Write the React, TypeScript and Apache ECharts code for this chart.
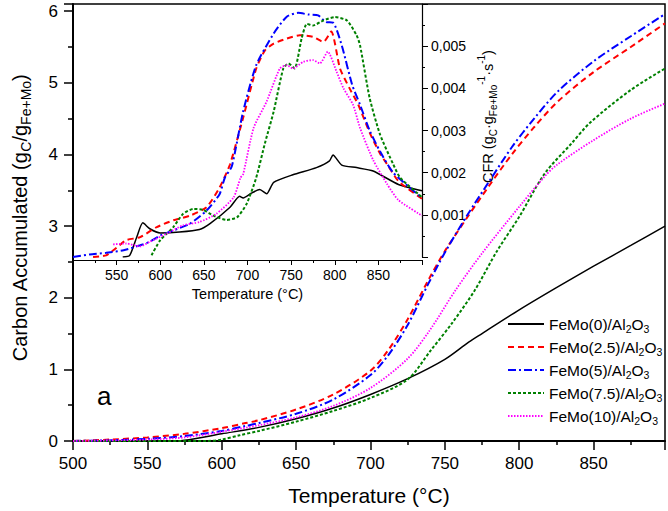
import React, { useEffect, useRef } from "react";
import * as echarts from "echarts";

// ---------- Main chart: carbon accumulated (gC/gFe+Mo) vs temperature ----------
const mainBlackT = [500, 550, 570, 575, 600, 625, 650, 675, 700, 725, 750, 766, 775, 800, 825, 850, 875, 898];
const mainBlackV = [0, 0, 0, 0.01, 0.1, 0.19, 0.31, 0.46, 0.65, 0.87, 1.14, 1.38, 1.5, 1.83, 2.14, 2.44, 2.73, 3.0];

const mainRedT = [500, 525, 550, 575, 600, 616, 625, 650, 675, 700, 712, 725, 739, 750, 765, 780, 795, 810, 826, 850, 875, 898];
const mainRedV = [0, 0.02, 0.05, 0.1, 0.18, 0.25, 0.29, 0.44, 0.65, 0.98, 1.27, 1.7, 2.25, 2.65, 3.12, 3.57, 4.0, 4.38, 4.74, 5.15, 5.5, 5.83];

const mainBlueT = [500, 525, 550, 575, 600, 616, 625, 650, 675, 700, 712, 725, 739, 750, 765, 780, 795, 810, 826, 850, 875, 898];
const mainBlueV = [0, 0.01, 0.03, 0.07, 0.14, 0.21, 0.25, 0.38, 0.58, 0.92, 1.2, 1.62, 2.2, 2.63, 3.15, 3.63, 4.1, 4.5, 4.88, 5.3, 5.65, 5.96];

const mainGreenT = [500, 590, 600, 612, 625, 650, 675, 700, 725, 740, 755, 770, 785, 800, 817, 835, 848, 875, 898];
const mainGreenV = [0, 0, 0.02, 0.08, 0.14, 0.27, 0.42, 0.6, 0.86, 1.25, 1.65, 2.1, 2.65, 3.13, 3.73, 4.15, 4.45, 4.9, 5.2];

const mainMagentaT = [500, 530, 550, 575, 600, 625, 650, 675, 700, 725, 740, 757, 775, 800, 817, 825, 850, 875, 898];
const mainMagentaV = [0, 0.01, 0.02, 0.05, 0.13, 0.22, 0.33, 0.49, 0.74, 1.15, 1.55, 2.1, 2.62, 3.27, 3.69, 3.85, 4.2, 4.5, 4.71];

// ---------- Inset: CFR (gC·gFe+Mo^-1·s^-1) vs temperature ----------
const insetBlackT = [557, 565, 573, 580, 588, 600, 622, 645, 657, 680, 691, 695, 705, 714, 722, 730, 752, 779, 794, 798, 808, 825, 844, 873, 900];
const insetBlackV = [0, 0.00004, 0.00047, 0.00081, 0.00067, 0.00057, 0.00059, 0.00065, 0.00079, 0.00118, 0.00144, 0.0014, 0.00152, 0.0016, 0.0015, 0.00177, 0.00195, 0.00212, 0.00228, 0.00242, 0.00218, 0.00212, 0.00204, 0.00172, 0.00157];

const insetRedT = [523, 538, 550, 561, 577, 596, 615, 634, 653, 668, 680, 695, 710, 720, 730, 745, 760, 775, 787, 796, 806, 817, 827, 840, 852, 860, 873, 900];
const insetRedV = [0, 0.00004, 0.00022, 0.0004, 0.00047, 0.00071, 0.00087, 0.00098, 0.00118, 0.00165, 0.0022, 0.0033, 0.00447, 0.0049, 0.00506, 0.00518, 0.00526, 0.00522, 0.0051, 0.00535, 0.00447, 0.004, 0.00361, 0.00295, 0.00245, 0.0022, 0.0018, 0.00138];

const insetBlueT = [500, 519, 538, 558, 577, 588, 600, 615, 634, 653, 668, 674, 682, 695, 710, 730, 745, 758, 770, 781, 790, 798, 808, 820, 829, 840, 852, 867, 900];
const insetBlueV = [0, 0.00006, 0.0001, 0.00016, 0.00028, 0.00036, 0.00051, 0.00063, 0.00079, 0.0011, 0.00149, 0.00188, 0.00215, 0.00345, 0.00455, 0.0053, 0.0057, 0.00579, 0.00575, 0.00573, 0.00557, 0.00556, 0.00502, 0.00408, 0.00361, 0.003, 0.0025, 0.002, 0.0014];

const insetGreenT = [590, 600, 615, 626, 638, 649, 661, 676, 688, 699, 710, 720, 730, 741, 747, 754, 762, 768, 775, 787, 800, 814, 825, 829, 840, 852, 867, 875, 900];
const insetGreenV = [0.00004, 0.0004, 0.00071, 0.00102, 0.00114, 0.00112, 0.00098, 0.00088, 0.00094, 0.00126, 0.00188, 0.0027, 0.00345, 0.00447, 0.00459, 0.00447, 0.00518, 0.00553, 0.00549, 0.00561, 0.00569, 0.00561, 0.00526, 0.00502, 0.00377, 0.0029, 0.0022, 0.00188, 0.00142];

const insetMagentaT = [546, 561, 577, 588, 607, 626, 645, 664, 684, 692, 695, 707, 722, 737, 745, 752, 764, 775, 783, 792, 802, 810, 821, 829, 844, 860, 873, 900];
const insetMagentaV = [0.0003, 0.00032, 0.00025, 0.00036, 0.00055, 0.00075, 0.00083, 0.00102, 0.00141, 0.00188, 0.00196, 0.00306, 0.00369, 0.00447, 0.00455, 0.00447, 0.00463, 0.00467, 0.00459, 0.00487, 0.0044, 0.004, 0.00361, 0.00306, 0.0023, 0.00173, 0.00135, 0.00098];

const seriesNames = ["FeMo(0)/Al2O3", "FeMo(2.5)/Al2O3", "FeMo(5)/Al2O3", "FeMo(7.5)/Al2O3", "FeMo(10)/Al2O3"];
const legendLabels = ["FeMo(0)/Al", "FeMo(2.5)/Al", "FeMo(5)/Al", "FeMo(7.5)/Al", "FeMo(10)/Al"];

const FONT = "Liberation Sans";

const zip = (t: number[], v: number[]) => t.map((x, i) => [x, v[i]]);

const styles = [
  { color: "#000000", width: 1.5, type: "solid" as any },
  { color: "#ff0000", width: 2, type: [6, 4] as any },
  { color: "#0000ff", width: 2, type: [8, 3, 2, 3] as any },
  { color: "#008000", width: 2, type: [3, 2] as any },
  { color: "#ff00ff", width: 1.8, type: [1.5, 1.5] as any },
];

const mainData = [
  zip(mainBlackT, mainBlackV),
  zip(mainRedT, mainRedV),
  zip(mainBlueT, mainBlueV),
  zip(mainGreenT, mainGreenV),
  zip(mainMagentaT, mainMagentaV),
];
const insetData = [
  zip(insetBlackT, insetBlackV),
  zip(insetRedT, insetRedV),
  zip(insetBlueT, insetBlueV),
  zip(insetGreenT, insetGreenV),
  zip(insetMagentaT, insetMagentaV),
];

export default function App() {
  const ref = useRef<HTMLDivElement>(null);
  useEffect(() => {
    if (!ref.current) return;
    const chart = echarts.init(ref.current, undefined, { renderer: "svg" });
    const series: any[] = [];
    seriesNames.forEach((name, i) => {
      series.push({
        type: "line",
        name,
        xAxisIndex: 0,
        yAxisIndex: 0,
        data: mainData[i],
        symbol: "none",
        showSymbol: false,
        smooth: 0.3,
        lineStyle: { color: styles[i].color, width: styles[i].width, type: styles[i].type },
        itemStyle: { color: styles[i].color },
        z: 3,
      });
    });
    seriesNames.forEach((name, i) => {
      series.push({
        type: "line",
        name,
        xAxisIndex: 1,
        yAxisIndex: 1,
        data: insetData[i],
        symbol: "none",
        showSymbol: false,
        smooth: 0.2,
        lineStyle: { color: styles[i].color, width: styles[i].width, type: styles[i].type },
        itemStyle: { color: styles[i].color },
        z: 4,
      });
    });

    const axisBlack = { color: "#000" };
    chart.setOption({
      animation: false,
      backgroundColor: "#fff",
      textStyle: { fontFamily: FONT },
      grid: [
        { left: 73, right: 0, top: 4, bottom: 70, show: true, borderColor: "#000", borderWidth: 1.5, backgroundColor: "transparent" },
        { left: 73, top: 4, width: 349, height: 253, show: false },
      ],
      legend: {
        data: seriesNames,
        orient: "vertical",
        left: 507,
        top: 316,
        itemWidth: 36,
        itemHeight: 12,
        itemGap: 5,
        padding: 0,
        itemStyle: { opacity: 0 },
        formatter: (name: string) => {
          const i = seriesNames.indexOf(name);
          return `{n|${legendLabels[i]}}{s|2}{n|O}{s|3}`;
        },
        textStyle: {
          color: "#000",
          fontFamily: FONT,
          fontSize: 15.5,
          rich: {
            n: { fontSize: 15.5, lineHeight: 20, fontFamily: FONT, color: "#000" },
            s: { fontSize: 10.5, lineHeight: 10, verticalAlign: "bottom", fontFamily: FONT, color: "#000" },
          },
        },
      },
      xAxis: [
        {
          type: "value",
          gridIndex: 0,
          min: 500,
          max: 898,
          interval: 50,
          name: "Temperature (°C)",
          nameLocation: "middle",
          nameGap: 44,
          nameTextStyle: { fontSize: 21, color: "#000", fontFamily: FONT },
          axisLine: { onZero: false, lineStyle: { ...axisBlack, width: 2 } },
          axisTick: { length: 9, lineStyle: { ...axisBlack, width: 1.5 } },
          minorTick: { show: true, splitNumber: 2, length: 4, lineStyle: { ...axisBlack, width: 1.5 } },
          splitLine: { show: false },
          axisLabel: {
            fontSize: 17,
            color: "#000",
            margin: 14,
            fontFamily: FONT,
            formatter: (v: number) => (v % 50 === 0 ? String(v) : ""),
          },
        },
        {
          type: "value",
          gridIndex: 1,
          min: 500,
          max: 900,
          interval: 50,
          offset: 3,
          name: "Temperature (°C)",
          nameLocation: "middle",
          nameGap: 26,
          nameTextStyle: { fontSize: 14.5, color: "#000", fontFamily: FONT },
          axisLine: { onZero: false, lineStyle: { ...axisBlack, width: 1.2 } },
          axisTick: { length: 5, lineStyle: { ...axisBlack, width: 1 } },
          minorTick: { show: true, splitNumber: 2, length: 3, lineStyle: { ...axisBlack, width: 1 } },
          splitLine: { show: false },
          axisLabel: {
            fontSize: 14,
            color: "#000",
            margin: 8,
            fontFamily: FONT,
            formatter: (v: number) => (v > 500 && v < 900 ? String(v) : ""),
          },
        },
      ],
      yAxis: [
        {
          type: "value",
          gridIndex: 0,
          min: 0,
          max: 6.1,
          interval: 1,
          name: "{n|Carbon Accumulated (g}{s|C}{n|/g}{s|Fe+Mo}{n|)}",
          nameLocation: "middle",
          nameRotate: 90,
          nameGap: 40,
          nameTextStyle: {
            color: "#000",
            fontFamily: FONT,
            fontSize: 20,
            padding: [0, 0, 0, 9],
            rich: {
              n: { fontSize: 20, lineHeight: 26, fontFamily: FONT, color: "#000" },
              s: { fontSize: 14, lineHeight: 14, verticalAlign: "bottom", fontFamily: FONT, color: "#000" },
            },
          },
          axisLine: { onZero: false, lineStyle: { ...axisBlack, width: 2 } },
          axisTick: { length: 9, lineStyle: { ...axisBlack, width: 1.5 } },
          minorTick: { show: true, splitNumber: 2, length: 5, lineStyle: { ...axisBlack, width: 1.5 } },
          splitLine: { show: false },
          axisLabel: {
            fontSize: 17,
            color: "#000",
            margin: 15,
            fontFamily: FONT,
            formatter: (v: number) => (Math.abs(v - Math.round(v)) < 1e-9 ? String(Math.round(v)) : ""),
          },
        },
        {
          type: "value",
          gridIndex: 1,
          position: "right",
          min: 0,
          max: 0.006,
          interval: 0.001,
          name: "{n|CFR (g}{s|C}{n|·g}{s|Fe+Mo}{p|-1}{n|·s}{p|-1}{n|)}",
          nameLocation: "middle",
          nameRotate: 90,
          nameGap: 46,
          nameTextStyle: {
            color: "#000",
            fontFamily: FONT,
            fontSize: 14.5,
            padding: [0, 0, 0, 28],
            rich: {
              n: { fontSize: 14.5, lineHeight: 22, fontFamily: FONT, color: "#000" },
              s: { fontSize: 10, lineHeight: 12, verticalAlign: "bottom", fontFamily: FONT, color: "#000" },
              p: { fontSize: 10, lineHeight: 10, verticalAlign: "top", fontFamily: FONT, color: "#000" },
            },
          },
          axisLine: { show: true, onZero: false, lineStyle: { ...axisBlack, width: 1.2 } },
          axisTick: { length: 6, lineStyle: { ...axisBlack, width: 1 } },
          minorTick: { show: true, splitNumber: 2, length: 3, lineStyle: { ...axisBlack, width: 1 } },
          splitLine: { show: false },
          axisLabel: {
            fontSize: 14,
            color: "#000",
            margin: 9,
            fontFamily: FONT,
            formatter: (v: number) => (v > 0.0001 && v < 0.0059 ? v.toFixed(3).replace(".", ",") : ""),
          },
        },
      ],
      graphic: [
        {
          type: "text",
          left: 97,
          top: 383,
          style: { text: "a", fontSize: 26, fill: "#000", fontFamily: FONT },
        },
      ],
      series,
    });
    return () => chart.dispose();
  }, []);
  return (
    <div
      ref={ref}
      style={{ position: "fixed", left: 0, top: 0, width: 668, height: 511, background: "#fff" }}
    />
  );
}
